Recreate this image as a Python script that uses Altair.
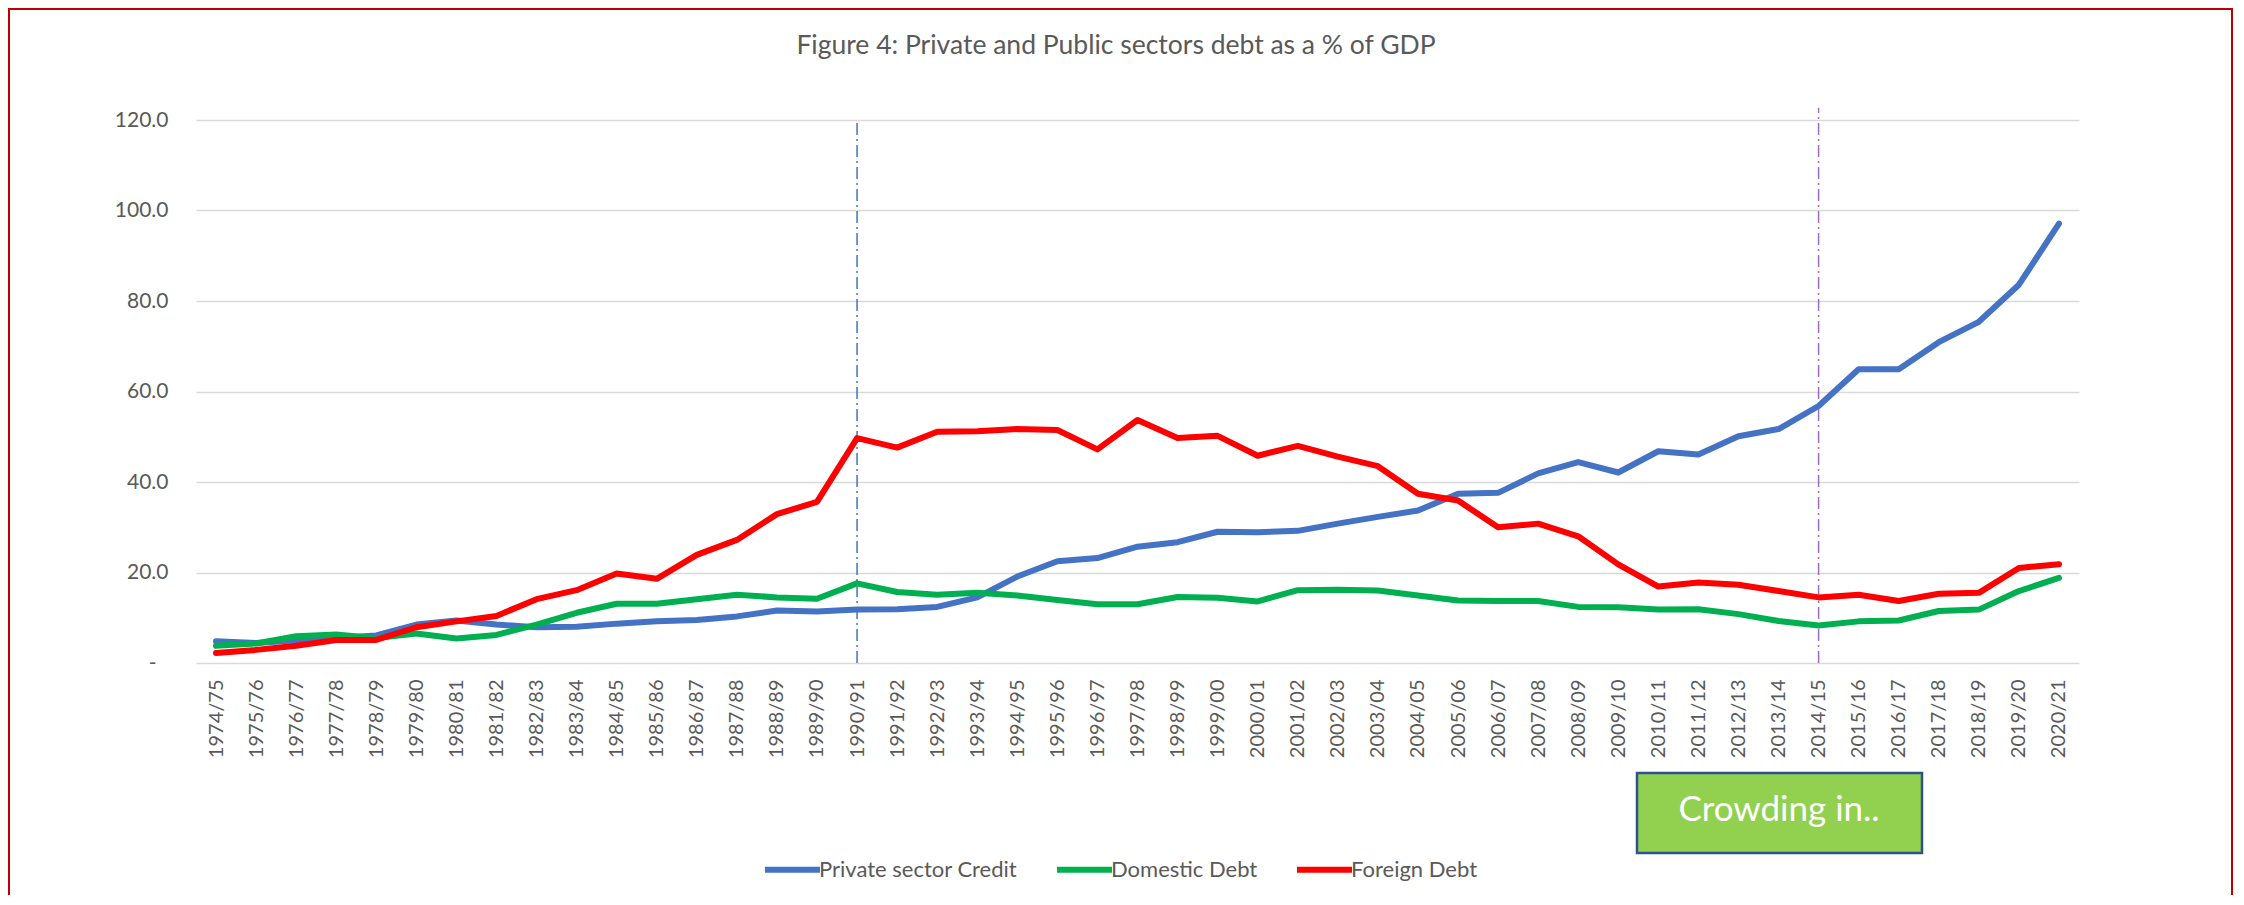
import altair as alt
import pandas as pd

categories = ["1974/75", "1975/76", "1976/77", "1977/78", "1978/79", "1979/80", "1980/81",
              "1981/82", "1982/83", "1983/84", "1984/85", "1985/86", "1986/87", "1987/88",
              "1988/89", "1989/90", "1990/91", "1991/92", "1992/93", "1993/94", "1994/95",
              "1995/96", "1996/97", "1997/98", "1998/99", "1999/00", "2000/01", "2001/02",
              "2002/03", "2003/04", "2004/05", "2005/06", "2006/07", "2007/08", "2008/09",
              "2009/10", "2010/11", "2011/12", "2012/13", "2013/14", "2014/15", "2015/16",
              "2016/17", "2017/18", "2018/19", "2019/20", "2020/21"]

private_credit = [4.8, 4.4, 5.0, 5.5, 6.1, 8.5, 9.4, 8.5, 7.9, 8.0, 8.7, 9.2, 9.5, 10.3, 11.6,
                  11.4, 11.8, 11.9, 12.4, 14.5, 19.1, 22.5, 23.2, 25.7, 26.7, 29.0, 28.9, 29.2,
                  30.8, 32.3, 33.7, 37.4, 37.6, 41.9, 44.4, 42.1, 46.8, 46.1, 50.1, 51.7, 56.8,
                  64.9, 64.9, 70.9, 75.4, 83.6, 97.1]

domestic_debt = [3.8, 4.3, 5.9, 6.3, 5.5, 6.5, 5.4, 6.2, 8.5, 11.1, 13.1, 13.1, 14.1, 15.1, 14.5,
                 14.2, 17.6, 15.7, 15.1, 15.5, 14.9, 13.9, 13.0, 13.0, 14.6, 14.4, 13.6, 16.1,
                 16.2, 16.0, 14.9, 13.8, 13.7, 13.7, 12.4, 12.3, 11.8, 11.9, 10.8, 9.3, 8.3,
                 9.2, 9.4, 11.5, 11.8, 15.9, 18.8]

foreign_debt = [2.2, 2.9, 3.8, 5.1, 5.1, 7.9, 9.2, 10.4, 14.1, 16.1, 19.8, 18.6, 23.9, 27.2, 32.9,
                35.6, 49.7, 47.6, 51.1, 51.2, 51.7, 51.5, 47.2, 53.7, 49.7, 50.2, 45.8, 48.0,
                45.6, 43.5, 37.4, 35.9, 30.0, 30.8, 28.0, 21.8, 16.9, 17.8, 17.3, 15.9, 14.5,
                15.1, 13.7, 15.3, 15.5, 21.0, 21.8]

series_names = ["Private sector Credit", "Domestic Debt", "Foreign Debt"]
series_colors = ["#4472C4", "#00B050", "#FF0000"]

marker_years = ["1990/91", "2014/15"]
marker_tops = [120.0, 122.7]

title_text = "Figure 4: Private and Public sectors debt as a % of GDP"
box_text = "Crowding in.."

FONT = "Lato"
GREY = "#595959"

W, H = 1883, 543

rows = []
for name, vals in zip(series_names, [private_credit, domestic_debt, foreign_debt]):
    for c, v in zip(categories, vals):
        rows.append({"Year": c, "Value": v, "Series": name})
df = pd.DataFrame(rows)

marks_df = pd.DataFrame({"Year": marker_years, "Bottom": [0.0, 0.0], "Top": marker_tops})

x_enc = alt.X("Year:O", sort=categories,
              scale=alt.Scale(type="point", padding=0.5),
              axis=alt.Axis(title=None, labelAngle=270, labelFont=FONT, labelFontSize=20,
                            labelColor=GREY, ticks=False, tickSize=0, domain=False,
                            labelPadding=16, grid=False, labelOverlap=False))
y_enc = alt.Y("Value:Q",
              scale=alt.Scale(domain=[0, 120], nice=False),
              axis=alt.Axis(title=None, values=[0, 20, 40, 60, 80, 100, 120],
                            labelExpr="datum.value == 0 ? '-' : format(datum.value, '.1f')",
                            labelFont=FONT, labelFontSize=21, labelColor=GREY,
                            ticks=False, tickSize=0, domain=False,
                            labelPadding={"condition": {"test": "datum.value == 0", "value": 40},
                                          "value": 28},
                            grid=True, gridColor="#D9D9D9", gridWidth=1.3))

color_enc = alt.Color("Series:N",
                      scale=alt.Scale(domain=series_names, range=series_colors),
                      legend=alt.Legend(title=None, orient="none", legendX=566, legendY=719,
                                        direction="horizontal", symbolType="stroke",
                                        symbolSize=3025, symbolStrokeWidth=6,
                                        labelFont=FONT, labelFontSize=22, labelColor=GREY,
                                        labelLimit=0,
                                        labelOffset=alt.ExprRef(expr="-4"),
                                        columnPadding=27, padding=0))

base = alt.Chart(df)
line_layers = []
for name in series_names:
    line_layers.append(
        base.transform_filter(alt.datum.Series == name)
        .mark_line(strokeWidth=6, strokeCap="round", strokeJoin="round")
        .encode(x=x_enc, y=y_enc, color=color_enc)
    )

rule1 = alt.Chart(marks_df.iloc[[0]]).mark_rule(
    color="#4472C4", strokeWidth=1.5, strokeDash=[12, 4, 2, 4]
).encode(x=alt.X("Year:O", sort=categories), y="Bottom:Q", y2="Top:Q")

rule2 = alt.Chart(marks_df.iloc[[1]]).mark_rule(
    color="#9E6AC9", strokeWidth=1.5, strokeDash=[12, 4, 2, 4]
).encode(x=alt.X("Year:O", sort=categories), y="Bottom:Q", y2="Top:Q")

title_mark = alt.Chart(pd.DataFrame({"t": [title_text]})).mark_text(
    font=FONT, fontSize=26.5, color=GREY, align="center", baseline="middle"
).encode(x=alt.value(920), y=alt.value(-74), text="t:N")

box = alt.Chart(pd.DataFrame({"b": [1]})).mark_rect(
    fill="#92D050", stroke="#2F528F", strokeWidth=2.5
).encode(x=alt.value(1441), x2=alt.value(1726), y=alt.value(653), y2=alt.value(733))

box_label = alt.Chart(pd.DataFrame({"t": [box_text]})).mark_text(
    font=FONT, fontSize=35, color="white", align="center", baseline="middle"
).encode(x=alt.value(1583), y=alt.value(690), text="t:N")

border = alt.Chart(pd.DataFrame({"b": [1]})).mark_rect(
    fill=None, stroke="#C00000", strokeWidth=2
).encode(x=alt.value(-187), x2=alt.value(2036), y=alt.value(-111), y2=alt.value(800))

chart = alt.layer(
    border, rule1, rule2, *line_layers, title_mark, box, box_label
).properties(
    width=W, height=H,
    autosize=alt.AutoSizeParams(type="none"),
    padding={"left": 188, "top": 112, "right": 157, "bottom": 232},
    background="white",
).configure_view(stroke=None)

chart.save("out.html", embed_options={"renderer": "svg", "actions": False})
